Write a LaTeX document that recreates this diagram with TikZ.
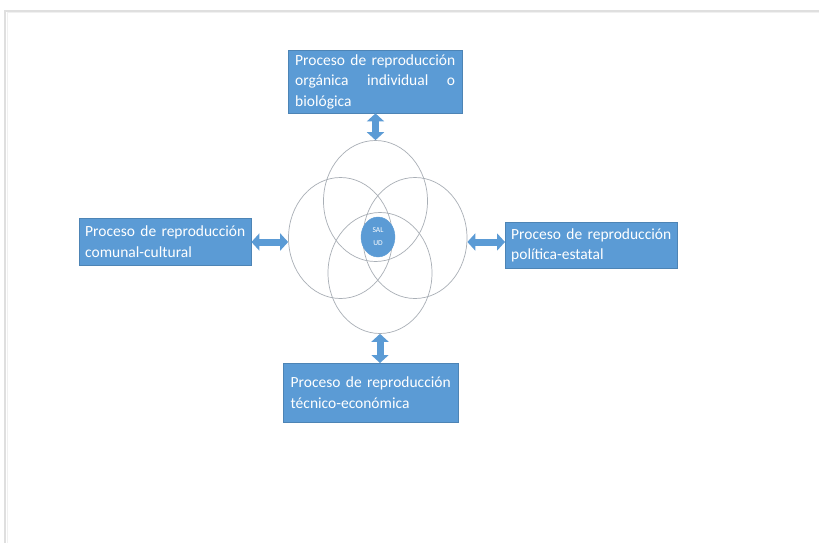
\documentclass[tikz,border=0pt]{standalone}
\usepackage{fontspec}
\setmainfont{Carlito}
\usetikzlibrary{arrows.meta,shapes.geometric}
\definecolor{boxblue}{HTML}{5B9BD5}
\definecolor{ringgray}{HTML}{A9AFB6}
\tikzset{
  pbox/.style={draw=boxblue!85!black, line width=0.4pt, fill=boxblue, text=white, inner xsep=0pt, inner ysep=2pt,
    font=\fontsize{15.5}{20.5}\selectfont, align=left, anchor=north west},
  ring/.style={draw=ringgray, line width=0.7pt, ellipse, minimum width=104pt, minimum height=121pt, inner sep=0pt},
  dbl/.style={draw=boxblue, line width=7pt, {Triangle[length=8pt,width=17pt]}-{Triangle[length=8pt,width=17pt]}},
}
\newcommand{\jl}[1]{\makebox[160pt][l]{#1}}
\begin{document}
\begin{tikzpicture}[x=1pt,y=-1pt]
\useasboundingbox (0,0) rectangle (819,543);
\fill[white] (0,0) rectangle (819,543);
% page edge
\draw[gray!25, line width=2pt] (5,543) -- (5,11) -- (819,11);
\draw[gray!12, line width=1pt] (7,543) -- (7,13) -- (819,13);
% boxes
\node[pbox, minimum width=174pt, minimum height=63pt] (top) at (288,50)
  {\jl{Proceso\hfill de\hfill reproducción}\\\jl{orgánica\hfill individual\hfill o}\\\jl{biológica}};
\node[pbox, minimum width=172pt, minimum height=47pt] (left) at (79,218)
  {\jl{Proceso\hfill de\hfill reproducción}\\\jl{comunal-cultural}};
\node[pbox, minimum width=172pt, minimum height=46pt] (right) at (505,222)
  {\jl{Proceso\hfill de\hfill reproducción}\\\jl{política-estatal}};
\node[pbox, minimum width=175pt, minimum height=59pt] (bot) at (283,363)
  {\jl{Proceso\hfill de\hfill reproducción}\\\jl{técnico-económica}};
% rings
\node[ring] (ctop) at (375.5,201) {};
\node[ring] (cleft) at (340.5,238) {};
\node[ring] (cright) at (415,238) {};
\node[ring] (cbot) at (380,273) {};
\node[ellipse, fill=boxblue, draw=boxblue, minimum width=34pt, minimum height=40pt, inner sep=0pt,
  text=white, font=\fontsize{7.5}{13}\selectfont, align=center] (salud) at (378,237) {SAL\\UD};
% arrows
\draw[dbl] (top.south -| ctop.north) -- (ctop.north);
\draw[dbl] (cbot.south) -- (cbot.south |- bot.north);
\draw[dbl] (left.east |- 0,242) -- (cleft.west |- 0,242);
\draw[dbl] (cright.east |- 0,242) -- (right.west |- 0,242);
\end{tikzpicture}
\end{document}
